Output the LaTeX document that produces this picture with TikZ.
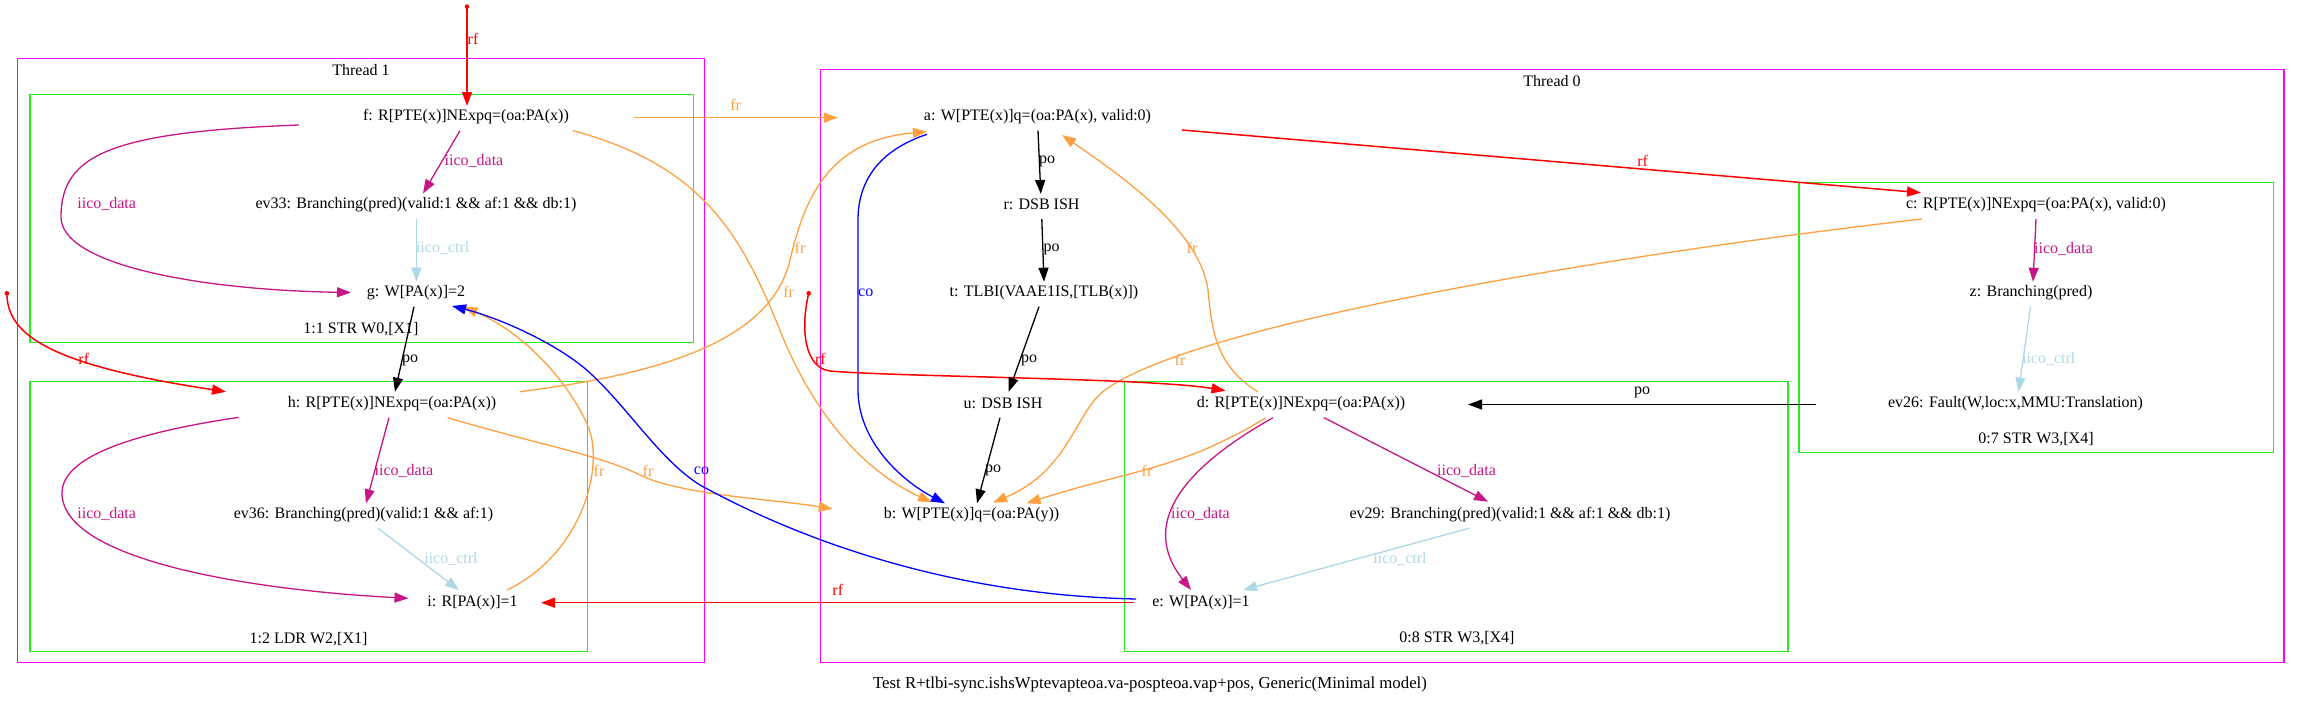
\documentclass[tikz,border=0pt]{standalone}
\usepackage{fontspec}
\setmainfont{Liberation Serif}
\usetikzlibrary{arrows.meta,calc}
\definecolor{frc}{HTML}{FFA040}
\definecolor{iicod}{HTML}{C71585}
\definecolor{iicoc}{HTML}{ADD8E6}
\definecolor{thr}{HTML}{FF00FF}
\definecolor{grp}{HTML}{22EE22}
\newcommand\evfont{\fontsize{16}{19}\selectfont}
\newcommand\capfont{\fontsize{16.8}{20}\selectfont}
\begin{document}
\begin{tikzpicture}[x=1pt,y=-1pt,
  ev/.style={inner sep=0pt,font=\evfont},
  lab/.style={inner sep=0pt,font=\evfont},
  ed/.style={line width=1.3pt,-{Triangle[length=14pt,width=10pt]}},
  pol/.style={ed,black},
  rfl/.style={ed,red,line width=1.5pt},
  frl/.style={ed,frc},
  col/.style={ed,blue},
  idl/.style={ed,iicod},
  icl/.style={ed,iicoc},
  thrbox/.style={draw=thr,line width=1.4pt},
  grpbox/.style={draw=grp,line width=1.4pt},
  rfdot/.style={fill=red}
]
\useasboundingbox (0,0) rectangle (2301,704);

% clusters
\draw[thrbox] (17.6,58.7) rectangle (704.5,662.5);
\node[lab] (th1) at (361,70) {Thread 1};
\draw[grpbox] (29.8,94.3) rectangle (693.7,342.3);
\node[lab] (g11) at (361,328.7) {1:1 STR W0,[X1]};
\draw[grpbox] (29.8,381.3) rectangle (587.7,651.7);
\node[lab] (g12) at (308.5,638.7) {1:2 LDR W2,[X1]};
\draw[thrbox] (820.4,69.3) rectangle (2284,662.3);
\node[lab] (th0) at (1552,80.7) {Thread 0};
\draw[grpbox] (1799,182.7) rectangle (2273.6,452.7);
\node[lab] (g07) at (2036,439.3) {0:7 STR W3,[X4]};
\draw[grpbox] (1124.5,381.3) rectangle (1788,651.3);
\node[lab] (g08) at (1457,638.3) {0:8 STR W3,[X4]};
\node[inner sep=0pt,font=\capfont] (cap) at (1150,684) {Test R+tlbi-sync.ishsWptevapteoa.va-pospteoa.vap+pos, Generic(Minimal model)};

% events
\node[ev] (f) at (466,117) {f: R[PTE(x)]NExpq=(oa:PA(x))};
\node[ev] (ev33) at (416,204.5) {ev33: Branching(pred)(valid:1 \&\& af:1 \&\& db:1)};
\node[ev] (g) at (416,292.5) {g: W[PA(x)]=2};
\node[ev] (h) at (392,403.5) {h: R[PTE(x)]NExpq=(oa:PA(x))};
\node[ev] (ev36) at (363.5,514.5) {ev36: Branching(pred)(valid:1 \&\& af:1)};
\node[ev] (i) at (472.5,602.5) {i: R[PA(x)]=1};
\node[ev] (a) at (1037.5,117) {a: W[PTE(x)]q=(oa:PA(x), valid:0)};
\node[ev] (r) at (1041.5,204.5) {r: DSB ISH};
\node[ev] (t) at (1044,292.5) {t: TLBI(VAAE1IS,[TLB(x)])};
\node[ev] (u) at (1003,403.5) {u: DSB ISH};
\node[ev] (b) at (971.5,514.5) {b: W[PTE(x)]q=(oa:PA(y))};
\node[ev] (d) at (1301,403.5) {d: R[PTE(x)]NExpq=(oa:PA(x))};
\node[ev] (ev29) at (1510,514.5) {ev29: Branching(pred)(valid:1 \&\& af:1 \&\& db:1)};
\node[ev] (e) at (1201,602.5) {e: W[PA(x)]=1};
\node[ev] (c) at (2036,204.5) {c: R[PTE(x)]NExpq=(oa:PA(x), valid:0)};
\node[ev] (z) at (2031,292.5) {z: Branching(pred)};
\node[ev] (ev26) at (2015.5,403.5) {ev26: Fault(W,loc:x,MMU:Translation)};

% free ends
\coordinate (dot1) at (467,6.7);
\coordinate (dot2) at (6.9,293.3);
\coordinate (dot3) at (808.7,293.3);

% Thread 1 edges
\draw[rfl] (dot1) -- ($(f)+(1,-11)$) node[lab,red] (l1) at (473,39) {rf};
\draw[idl] ($(f)+(-6,13.7)$) -- ($(ev33)+(7,-11)$) node[lab,iicod] (l2) at (474,160.7) {iico\_data};
\draw[idl] ($(f)+(-167,8)$) .. controls (110,132) and (61,155) .. (61,217)
  .. controls (61,265) and (200,290) .. ($(g)+(-65,0)$) node[lab,iicod] (l3) at (106.7,204.3) {iico\_data};
\draw[icl] ($(ev33)+(0.4,14.5)$) -- ($(g)+(0.4,-10.8)$) node[lab,iicoc] (l4) at (442.7,248.3) {iico\_ctrl};
\draw[pol] ($(g)+(-2,14.2)$) -- ($(h)+(3,-11.8)$) node[lab] (l5) at (410,360) {po};
\draw[rfl] (dot2) .. controls (6.9,335) and (50,365) .. ($(h)+(-166,-11.8)$) node[lab,red] (l6) at (83.8,359.3) {rf};
\draw[idl] ($(h)+(-3,14.2)$) -- ($(ev36)+(2.5,-11.2)$) node[lab,iicod] (l7) at (404,470.7) {iico\_data};
\draw[idl] ($(h)+(-153.3,13.8)$) .. controls (140,432) and (62,455) .. (62,493)
  .. controls (62,560) and (250,590) .. ($(i)+(-64,-4.2)$) node[lab,iicod] (l8) at (106.7,514.3) {iico\_data};
\draw[icl] ($(ev36)+(14.5,13.8)$) -- ($(i)+(-13.5,-12.5)$) node[lab,iicoc] (l9) at (451,558.7) {iico\_ctrl};

% cross edges
\draw[frl] ($(f)+(167.6,0.7)$) -- ($(a)+(-199.7,0.7)$) node[lab,frc] (l10) at (735.7,105) {fr};
\draw[frl] ($(f)+(107,13.7)$) .. controls (700,165) and (740,230) .. (781,333)
  .. controls (798,375) and (840,460) .. ($(b)+(-39.5,-12.2)$) node[lab,frc] (l11) at (788.6,292.3) {fr};
\draw[frl] ($(h)+(128,-11.8)$) .. controls (650,375) and (770,345) .. (790,260)
  .. controls (805,196) and (830,140) .. ($(a)+(-110.5,14.7)$) node[lab,frc] (l12) at (800,248.3) {fr};
\draw[frl] ($(d)+(-43.3,-11.8)$) .. controls (1215,365) and (1212,330) .. (1208,290)
  .. controls (1200,230) and (1120,175) .. ($(a)+(24.5,18)$) node[lab,frc] (l13) at (1192,248.3) {fr};
\draw[frl] ($(c)+(-114,14.5)$) .. controls (1650,250) and (1200,320) .. (1105,390)
  .. controls (1075,412) and (1070,470) .. ($(b)+(21.5,-11.8)$) node[lab,frc] (l14) at (1180,360) {fr};
\draw[frl] ($(d)+(-35,14.2)$) .. controls (1180,470) and (1130,470) .. ($(b)+(55,-11.2)$) node[lab,frc] (l15) at (1147,470.7) {fr};
\draw[frl] ($(h)+(55.6,14.2)$) .. controls (540,445) and (600,455) .. (640,475)
  .. controls (680,495) and (780,500) .. ($(b)+(-138.8,-5.5)$) node[lab,frc] (l16) at (648,470.7) {fr};
\draw[frl] ($(i)+(34.5,-12.5)$) .. controls (570,560) and (600,490) .. (592,440)
  .. controls (587,410) and (540,340) .. ($(g)+(47.7,14.2)$) node[lab,frc] (l17) at (599,470.7) {fr};
\draw[col] ($(a)+(-110.5,17.3)$) .. controls (880,150) and (858,180) .. (858,220) -- (858,390)
  .. controls (858,440) and (900,480) .. ($(b)+(-26.5,-11.2)$) node[lab,blue] (l18) at (865.7,293.3) {co};
\draw[col] ($(e)+(-65,-3.5)$) .. controls (950,595) and (800,540) .. (700,485)
  .. controls (660,460) and (630,410) .. (590,373)
  .. controls (560,345) and (500,318) .. ($(g)+(36,13.5)$) node[lab,blue] (l19) at (701.5,470.7) {co};
\draw[rfl] ($(e)+(-67.3,0.2)$) -- ($(i)+(68.5,0.2)$) node[lab,red] (l20) at (837.8,590) {rf};
\draw[rfl] (dot3) .. controls (800,330) and (805,368) .. (830,371)
  .. controls (900,377) and (1150,378) .. ($(d)+(-75.5,-12.8)$) node[lab,red] (l21) at (820.4,359.3) {rf};
\draw[rfl] ($(a)+(144.5,13)$) -- ($(c)+(-115,-11.8)$) node[lab,red] (l22) at (1642.6,160.7) {rf};

% Thread 0 edges
\draw[pol] ($(a)+(0.5,13.7)$) -- ($(r)+(-0.7,-10.5)$) node[lab] (l23) at (1047,161) {po};
\draw[pol] ($(r)+(0.3,14.5)$) -- ($(t)+(0,-10.8)$) node[lab] (l24) at (1051.5,249) {po};
\draw[pol] ($(t)+(-5,14.2)$) -- ($(u)+(5.7,-11.8)$) node[lab] (l25) at (1029,360) {po};
\draw[pol] ($(u)+(-3,14.2)$) -- ($(b)+(5.5,-11.2)$) node[lab] (l26) at (993,470.7) {po};
\draw[pol] ($(ev26)+(-199.5,1)$) -- ($(d)+(167,1)$) node[lab] (l27) at (1642,392.7) {po};
\draw[idl] ($(c)+(0,14.5)$) -- ($(z)+(2,-10.8)$) node[lab,iicod] (l28) at (2063.5,249) {iico\_data};
\draw[icl] ($(z)+(-0.4,14.2)$) -- ($(ev26)+(3,-11.8)$) node[lab,iicoc] (l29) at (2048.7,359.3) {iico\_ctrl};
\draw[idl] ($(d)+(23,14.2)$) -- ($(ev29)+(-22,-12.8)$) node[lab,iicod] (l30) at (1466.5,470.7) {iico\_data};
\draw[idl] ($(d)+(-28,14.2)$) .. controls (1180,470) and (1140,525) .. ($(e)+(-10,-12.5)$) node[lab,iicod] (l31) at (1200.5,514.3) {iico\_data};
\draw[icl] ($(ev29)+(-41,13.8)$) -- ($(e)+(42,-12.5)$) node[lab,iicoc] (l32) at (1400,558.7) {iico\_ctrl};

% dots
\fill[rfdot] (dot1) circle (2.3);
\fill[rfdot] (dot2) circle (2.3);
\fill[rfdot] (dot3) circle (2.3);
\end{tikzpicture}
\end{document}
